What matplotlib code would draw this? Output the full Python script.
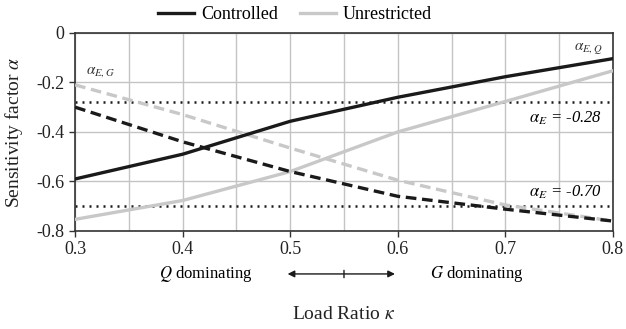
import matplotlib.pyplot as plt

plt.rcParams['font.family'] = ['Liberation Serif', 'DejaVu Serif']
plt.rcParams['mathtext.fontset'] = 'stix'

# load ratio kappa
kappa = [0.3, 0.4, 0.5, 0.6, 0.7, 0.8]

# sensitivity factors
ctrl_q = [-0.59, -0.49, -0.357, -0.26, -0.177, -0.104]
ctrl_g = [-0.30, -0.44, -0.56, -0.66, -0.712, -0.76]
unres_q = [-0.753, -0.677, -0.56, -0.40, -0.277, -0.153]
unres_g = [-0.21, -0.33, -0.465, -0.595, -0.695, -0.76]

alpha_e = [-0.28, -0.70]

black = '#1a1a1a'
gray = '#c8c8c8'

fig = plt.figure(figsize=(6.26, 3.29), dpi=100)
ax = fig.add_axes([0.12, 0.298, 0.859, 0.602])

# lines
ax.plot(kappa, ctrl_q, color=black, lw=2.4, label='Controlled', zorder=4)
ax.plot(kappa, unres_q, color=gray, lw=2.4, label='Unrestricted', zorder=3)
ax.plot(kappa, ctrl_g, color=black, lw=2.4, ls=(0, (3.2, 1.7)), zorder=4)
ax.plot(kappa, unres_g, color=gray, lw=2.4, ls=(0, (3.2, 1.7)), zorder=3)

for a in alpha_e:
    ax.axhline(a, color=black, lw=1.8, ls=(0, (0.8, 2.0)), zorder=2)

# axes
ax.set_xlim(0.3, 0.8)
ax.set_ylim(-0.8, 0)
ax.set_xticks(kappa)
ax.set_xticklabels(['0.3', '0.4', '0.5', '0.6', '0.7', '0.8'])
ax.set_xticks([0.35, 0.45, 0.55, 0.65, 0.75], minor=True)
ax.set_yticks([0, -0.2, -0.4, -0.6, -0.8])
ax.set_yticklabels(['0', '-0.2', '-0.4', '-0.6', '-0.8'])
ax.tick_params(axis='both', which='major', labelsize=13, length=4, width=1,
               color='#333333', labelcolor='#222222')
ax.tick_params(axis='x', which='minor', length=0)
ax.grid(True, which='both', axis='x', color='#c4c4c4', lw=1)
ax.grid(True, which='major', axis='y', color='#c4c4c4', lw=1)
ax.set_axisbelow(True)
for s in ax.spines.values():
    s.set_color('#333333')
    s.set_linewidth(1.2)

ax.set_ylabel(r'Sensitivity factor $\alpha$', fontsize=14, labelpad=8, color='#222222')
ax.set_xlabel(r'Load Ratio $\kappa$', fontsize=14, labelpad=34, color='#222222')

# annotations
ax.text(0.31, -0.165, r'$\alpha_{E,G}$', fontsize=11, color='#333333')
ax.text(0.79, -0.07, r'$\alpha_{E,Q}$', fontsize=11, color='#333333', ha='right')
ax.text(0.79, -0.345, r'$\alpha_E$ = -0.28', fontsize=12, style='italic', ha='right', va='center')
ax.text(0.79, -0.645, r'$\alpha_E$ = -0.70', fontsize=12, style='italic', ha='right', va='center')

# dominating arrow under the axis
ax.annotate('', xy=(0.495, -0.217), xytext=(0.6, -0.217),
            xycoords=('data', 'axes fraction'), textcoords=('data', 'axes fraction'),
            arrowprops=dict(arrowstyle='<|-|>', color=black, lw=1, mutation_scale=10),
            annotation_clip=False)
ax.annotate('', xy=(0.55, -0.185), xytext=(0.55, -0.25),
            xycoords=('data', 'axes fraction'), textcoords=('data', 'axes fraction'),
            arrowprops=dict(arrowstyle='-', color=black, lw=1),
            annotation_clip=False)
ax.text(0.465, -0.217, r'$Q$ dominating', fontsize=12, ha='right', va='center',
        transform=ax.get_xaxis_transform())
ax.text(0.63, -0.217, r'$G$ dominating', fontsize=12, ha='left', va='center',
        transform=ax.get_xaxis_transform())

fig.legend(loc='center', bbox_to_anchor=(0.471, 0.955), ncol=2, frameon=False,
           fontsize=13, handlelength=2.0, handletextpad=0.4, columnspacing=1.2)

fig.savefig('out.png', dpi=100)
